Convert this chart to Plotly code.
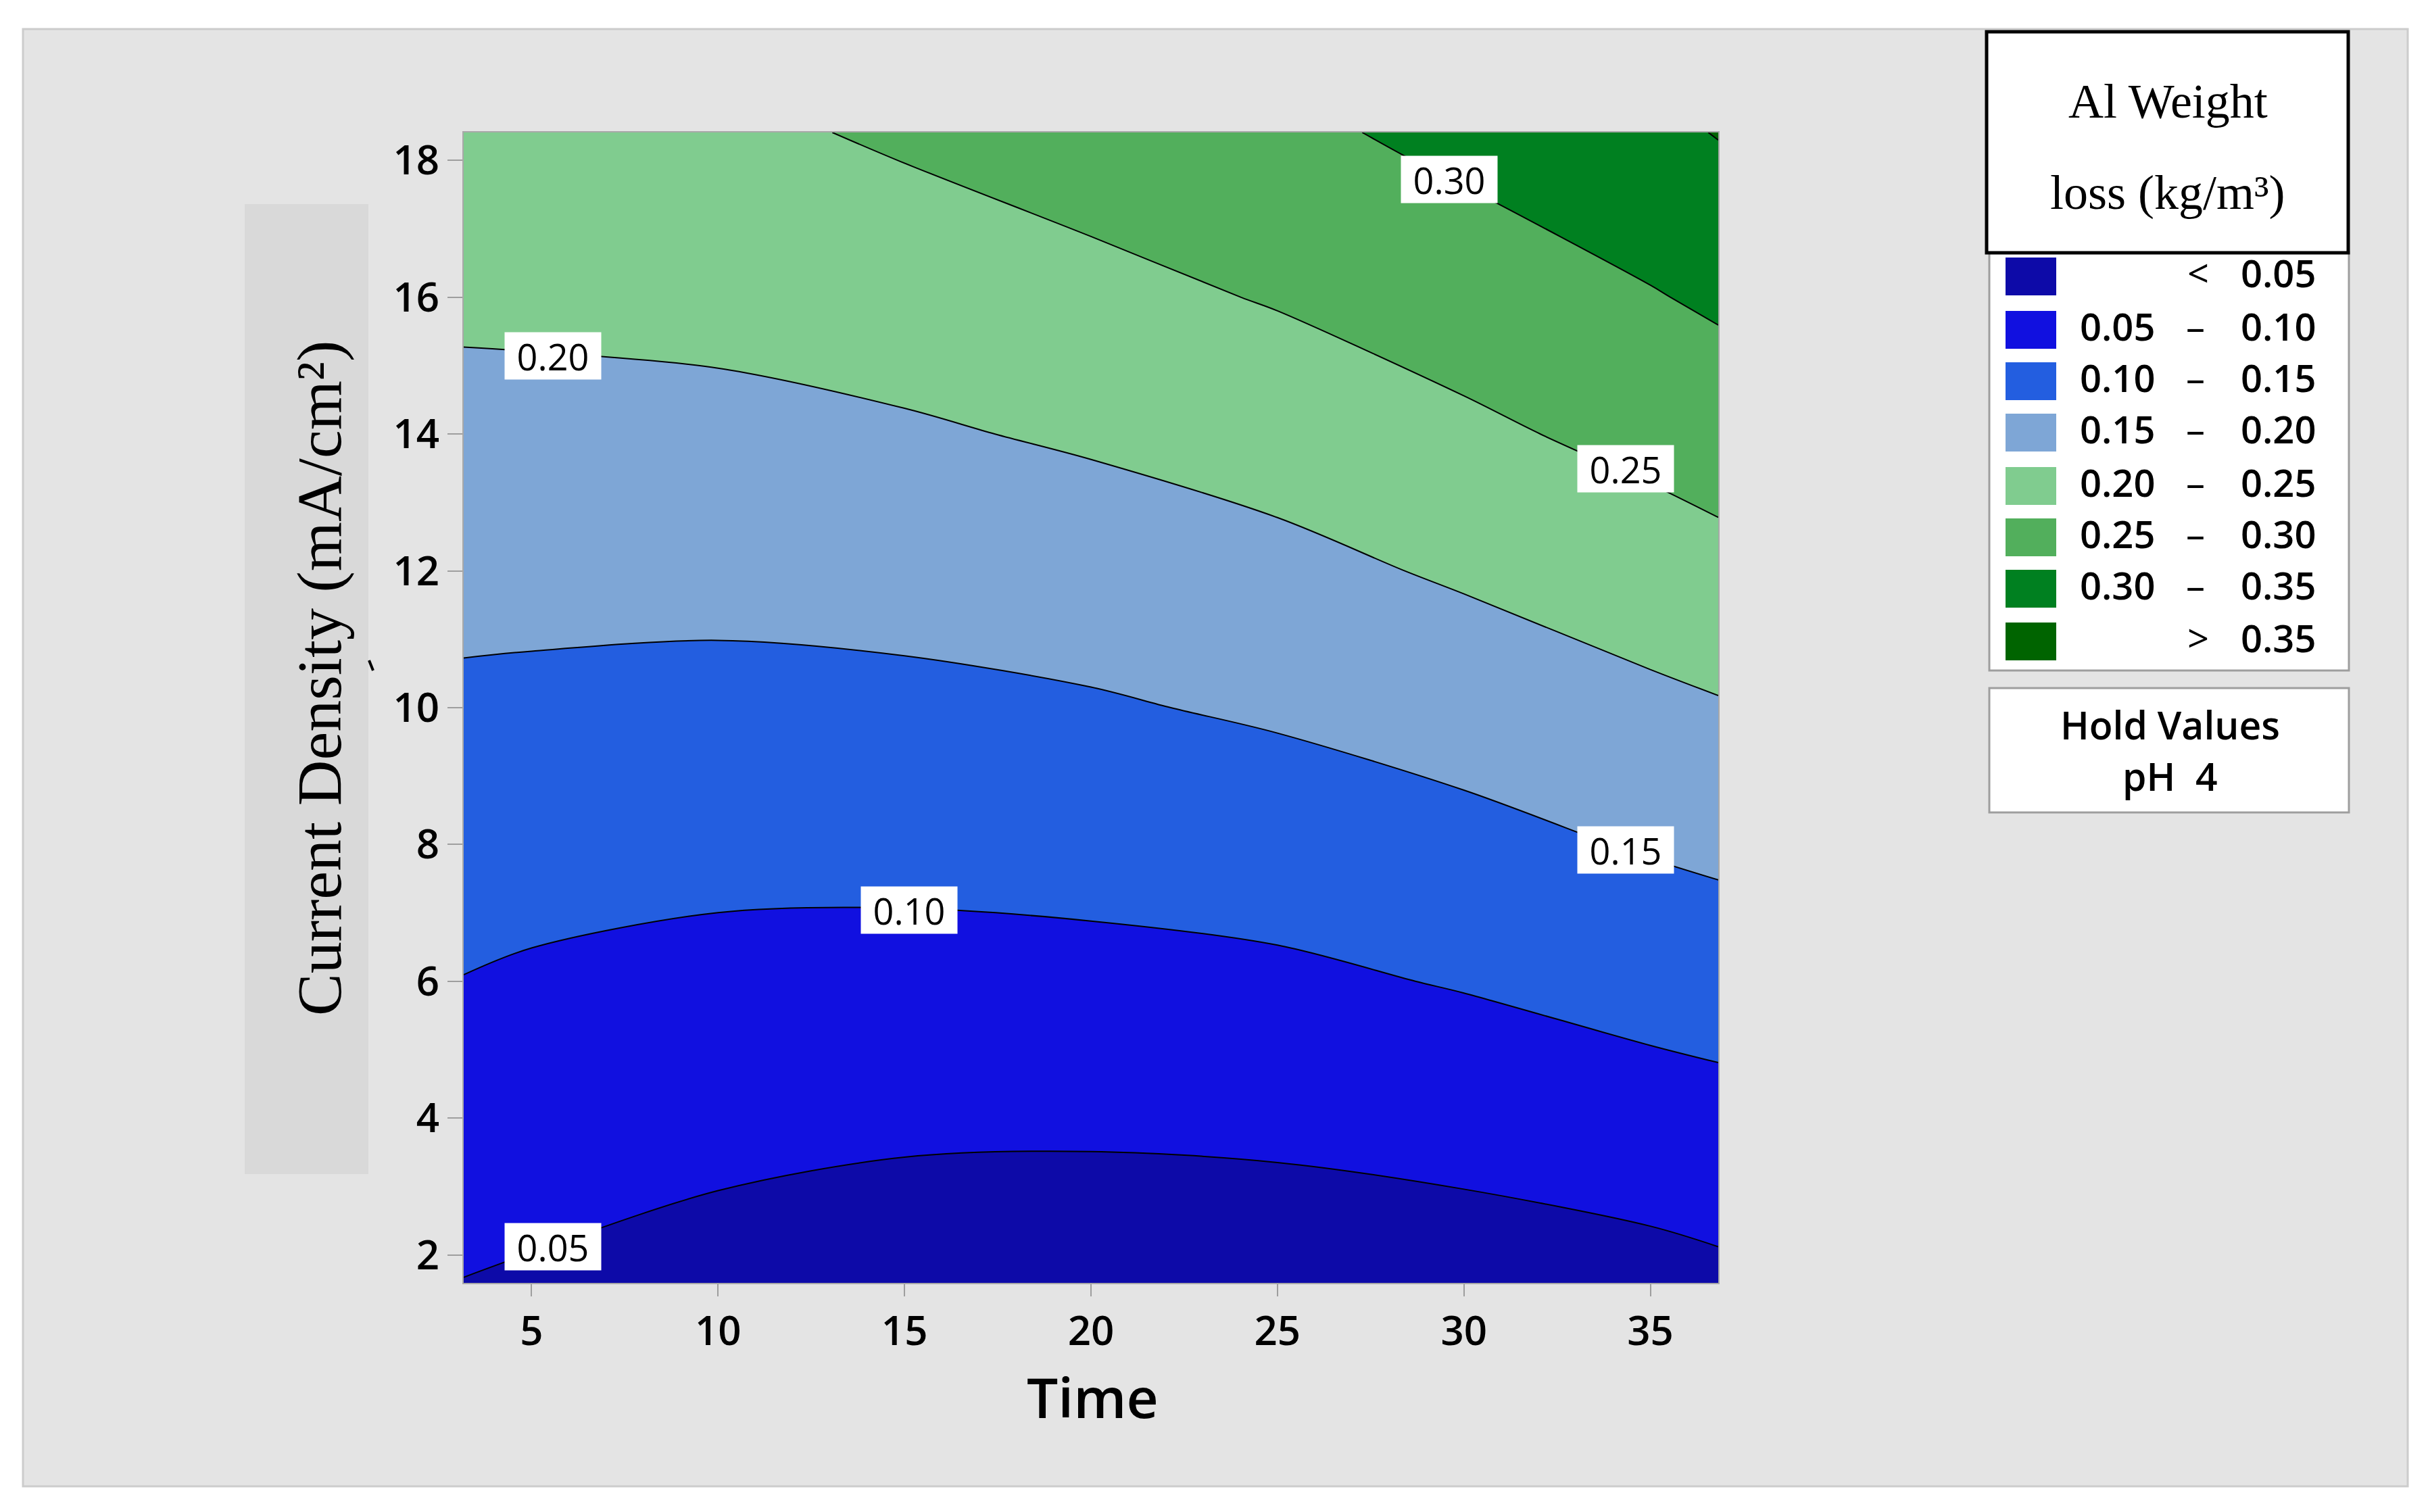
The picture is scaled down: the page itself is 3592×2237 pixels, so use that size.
import plotly.graph_objects as go

# ---------------- data ----------------
time_vals = [3.18, 5, 10, 15, 20, 25, 30, 35, 36.82]
cd_vals = [1.59, 2, 4, 6, 8, 10, 12, 14, 16, 18, 18.41]
# Al weight loss (kg/m3), rows follow cd_vals, columns follow time_vals
weight_loss = [
    [0.049, 0.045, 0.0335, 0.0247, 0.0214, 0.0224, 0.0260, 0.0342, 0.0402],
    [0.054, 0.0496, 0.0385, 0.0303, 0.0275, 0.0288, 0.0332, 0.0420, 0.0478],
    [0.076, 0.072, 0.063, 0.0579, 0.0573, 0.0602, 0.0682, 0.0802, 0.0848],
    [0.099, 0.0944, 0.0875, 0.0854, 0.0871, 0.0915, 0.1030, 0.1175, 0.1223],
    [0.120, 0.1174, 0.1124, 0.1127, 0.1164, 0.1237, 0.1363, 0.1538, 0.1597],
    [0.142, 0.1405, 0.1376, 0.1396, 0.1455, 0.1560, 0.1708, 0.1896, 0.1965],
    [0.164, 0.1635, 0.1628, 0.1670, 0.1754, 0.1873, 0.2059, 0.2269, 0.2358],
    [0.186, 0.1863, 0.1878, 0.1947, 0.2056, 0.2199, 0.2408, 0.2632, 0.2721],
    [0.208, 0.209, 0.2131, 0.2228, 0.2364, 0.2533, 0.2737, 0.2970, 0.3071],
    [0.230, 0.232, 0.2370, 0.2505, 0.2670, 0.2840, 0.3060, 0.3308, 0.3444],
    [0.235, 0.2366, 0.2405, 0.2560, 0.2730, 0.2895, 0.3126, 0.3378, 0.3521],
]
level_start, level_end, level_step = 0.05, 0.35, 0.05
band_colors = ["#0D0AA8", "#1110E0", "#235EE0", "#7EA6D6",
               "#80CC8F", "#52AF5C", "#008020", "#006400"]
legend_rows = [("", "<", "0.05"), ("0.05", "–", "0.10"), ("0.10", "–", "0.15"),
               ("0.15", "–", "0.20"), ("0.20", "–", "0.25"), ("0.25", "–", "0.30"),
               ("0.30", "–", "0.35"), ("", ">", "0.35")]
contour_label_text = ["0.30", "0.20", "0.25", "0.15", "0.10", "0.05"]
x_ticks = [5, 10, 15, 20, 25, 30, 35]
y_ticks = [2, 4, 6, 8, 10, 12, 14, 16, 18]
x_title = "Time"
y_title = "Current Density (mA/cm²)"
legend_title = ["Al Weight", "loss (kg/m³)"]
hold_text = ["Hold Values", "pH  4"]

# ---------------- layout geometry (reference pixel coords) ----------------
W, H = 3592, 2237
OFF = 8  # page body margin
FW, FH = W - 2 * OFF, H - 2 * OFF
PL, PR, PT, PB = 686, 2542, 196, 1898


def px(xp):
    return (xp - PL) / (PR - PL)


def py(yp):
    return (PB - yp) / (PB - PT)


label_pos = [(29.61, 17.72), (5.57, 15.14), (34.34, 13.49),
             (34.34, 7.92), (15.12, 7.04), (5.57, 2.12)]

n_bands = len(band_colors)
colorscale = [[i / (n_bands - 1), c] for i, c in enumerate(band_colors)]

fig = go.Figure()
fig.add_trace(go.Contour(
    x=time_vals, y=cd_vals, z=weight_loss,
    autocontour=False,
    contours=dict(start=level_start, end=level_end, size=level_step,
                  coloring="fill", showlabels=False),
    colorscale=colorscale, showscale=False,
    line=dict(color="black", width=2, smoothing=0.9),
    hoverinfo="skip",
))

shapes = []
shapes.append(dict(type="rect", xref="paper", yref="paper", layer="below",
                   x0=px(34), x1=px(3562), y0=py(43), y1=py(2199),
                   fillcolor="#E4E4E4", line=dict(color="#CCCCCC", width=3)))
shapes.append(dict(type="rect", xref="paper", yref="paper", layer="below",
                   x0=px(362), x1=px(545), y0=py(302), y1=py(1737),
                   fillcolor="#D9D9D9", line=dict(width=0)))
shapes.append(dict(type="rect", xref="paper", yref="paper",
                   x0=px(2943), x1=px(3475), y0=py(373), y1=py(992),
                   fillcolor="white", line=dict(color="#9E9E9E", width=3)))
shapes.append(dict(type="rect", xref="paper", yref="paper",
                   x0=px(2939), x1=px(3474), y0=py(47), y1=py(374),
                   fillcolor="white", line=dict(color="black", width=5)))
shapes.append(dict(type="rect", xref="paper", yref="paper",
                   x0=px(2943), x1=px(3475), y0=py(1018), y1=py(1202),
                   fillcolor="white", line=dict(color="#9E9E9E", width=3)))
shapes.append(dict(type="line", xref="paper", yref="paper",
                   x0=px(546), x1=px(552), y0=py(977), y1=py(992),
                   line=dict(color="black", width=4)))

row_centers = [409, 488, 564, 640, 719, 795, 871, 949]
annotations = []
lfont = dict(family="Open Sans", size=56, color="black", weight=600)
for (lo, mid, hi), c, yc in zip(legend_rows, band_colors, row_centers):
    shapes.append(dict(type="rect", xref="paper", yref="paper",
                       x0=px(2967), x1=px(3042), y0=py(yc - 28), y1=py(yc + 28),
                       fillcolor=c, line=dict(width=0)))
    ty = py(yc - 6)
    if lo:
        annotations.append(dict(text=lo, xref="paper", yref="paper", x=px(3190), y=ty,
                                xanchor="right", yanchor="middle", showarrow=False, font=lfont))
    annotations.append(dict(text=mid, xref="paper", yref="paper",
                            x=px(3248 if lo else 3252), y=ty,
                            xanchor="center", yanchor="middle", showarrow=False,
                            font=dict(family="Open Sans", size=56, color="black", weight=400)))
    annotations.append(dict(text=hi, xref="paper", yref="paper", x=px(3428), y=ty,
                            xanchor="right", yanchor="middle", showarrow=False, font=lfont))

for t, yc in zip(legend_title, [150, 285]):
    annotations.append(dict(text=t, xref="paper", yref="paper", x=px(3207), y=py(yc),
                            xanchor="center", yanchor="middle", showarrow=False,
                            font=dict(family="Liberation Serif", size=72, color="black")))
for t, yc in zip(hold_text, [1072, 1148]):
    annotations.append(dict(text=t, xref="paper", yref="paper", x=px(3210), y=py(yc),
                            xanchor="center", yanchor="middle", showarrow=False,
                            font=dict(family="Open Sans", size=57, color="black", weight=600)))

for t, (lx, ly) in zip(contour_label_text, label_pos):
    annotations.append(dict(text=t, xref="x", yref="y", x=lx, y=ly,
                            xanchor="center", yanchor="middle", showarrow=False,
                            bgcolor="white", borderpad=0, width=142, height=69,
                            font=dict(family="Open Sans", size=54, color="black")))

annotations.append(dict(text=x_title, xref="paper", yref="paper", x=px(1616), y=py(2066),
                        xanchor="center", yanchor="middle", showarrow=False,
                        font=dict(family="Open Sans", size=82, color="black", weight=600)))
annotations.append(dict(text=y_title, xref="paper", yref="paper", x=px(472), y=py(1004),
                        xanchor="center", yanchor="middle", showarrow=False, textangle=-90,
                        font=dict(family="Liberation Serif", size=94, color="black")))

axis_common = dict(ticks="outside", tickwidth=2, tickcolor="#9E9E9E",
                   showline=True, linecolor="#A8A8A8", linewidth=2, mirror=True,
                   showgrid=False, zeroline=False,
                   tickfont=dict(family="Open Sans", size=60, color="black", weight=600))

fig.update_layout(
    width=FW, height=FH,
    margin=dict(l=PL - OFF, r=FW - (PR - OFF), t=PT - OFF, b=FH - (PB - OFF), pad=0),
    paper_bgcolor="white", plot_bgcolor="rgba(0,0,0,0)",
    xaxis=dict(range=[3.18, 36.82], tickvals=x_ticks, ticklen=18, **axis_common),
    yaxis=dict(range=[1.59, 18.41], tickvals=y_ticks, ticklen=22, **axis_common),
    shapes=shapes, annotations=annotations, showlegend=False,
)

fig.write_html("out.html")
